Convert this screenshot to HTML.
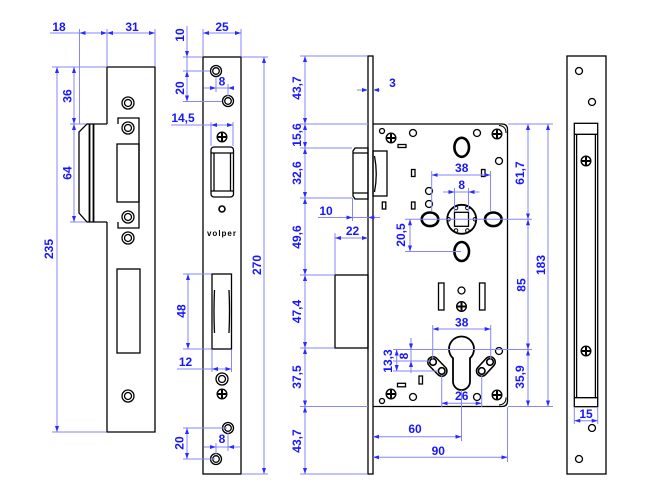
<!DOCTYPE html>
<html><head><meta charset="utf-8"><style>
html,body{margin:0;padding:0;background:#fff;}
svg{display:block;}
.k{fill:none;stroke:#000;stroke-width:1.3;}
.b line,.b path{stroke:#8686ff;stroke-width:1;fill:none;}
.dd{marker-start:url(#m);marker-end:url(#m);}
.de{marker-end:url(#m);}
text{font-family:"Liberation Sans",Arial,sans-serif;font-size:12px;font-weight:bold;fill:#1616ff;text-anchor:middle;}
</style></head><body>
<svg width="650" height="499" viewBox="0 0 650 499" xmlns="http://www.w3.org/2000/svg">
<defs>
<marker id="m" viewBox="0 0 6 4" refX="6" refY="2" markerWidth="6" markerHeight="4" markerUnits="userSpaceOnUse" orient="auto-start-reverse"><path d="M0,0L6,2L0,4z" fill="#2a2aff"/></marker>
<g id="s"><circle r="4.8" fill="#fff" stroke="#000" stroke-width="1.4"/><path d="M-4,0H4M0,-4V4" stroke="#000" stroke-width="2"/></g>
<g id="h"><circle r="6" fill="none" stroke="#000" stroke-width="1.3"/><circle r="3.5" fill="none" stroke="#000" stroke-width="1.3"/></g>
<g id="h2"><circle r="5.5" fill="none" stroke="#000" stroke-width="1.3"/><circle r="3.3" fill="none" stroke="#000" stroke-width="1.3"/></g>
</defs>

<!-- ============ STRIKE PLATE ============ -->
<g class="k">
<path d="M107,124V67H155V432H107V222"/>
<path d="M107,124H87L79,132V213L87,222H107"/>
<path d="M118,124V118H139V228H118V222"/>
<rect x="117" y="144" width="22" height="58"/>
<rect x="117" y="269" width="23" height="84"/>
</g>
<path d="M89.5,124V222M93.5,124V222" stroke="#000" stroke-width="1.8"/>
<use href="#h" x="128" y="103"/>
<use href="#h" x="128" y="128"/>
<use href="#h" x="128" y="217"/>
<use href="#h" x="128" y="238"/>
<use href="#h" x="128" y="396"/>

<g class="b">
<line x1="79.5" y1="29" x2="79.5" y2="124"/>
<line x1="107" y1="29" x2="107" y2="66"/>
<line x1="155" y1="29" x2="155" y2="66"/>
<line x1="50" y1="33" x2="79.5" y2="33"/>
<line class="dd" x1="79.5" y1="33" x2="107" y2="33"/>
<line class="dd" x1="107" y1="33" x2="155" y2="33"/>
<line x1="52" y1="67" x2="106" y2="67"/>
<line x1="70" y1="124" x2="86" y2="124"/>
<line x1="70" y1="222" x2="86" y2="222"/>
<line x1="52" y1="432" x2="106" y2="432"/>
<line class="dd" x1="57" y1="67" x2="57" y2="432"/>
<line class="dd" x1="74" y1="67" x2="74" y2="124"/>
<line class="dd" x1="74" y1="124" x2="74" y2="222"/>
</g>
<text x="59" y="31">18</text>
<text x="132" y="31">31</text>
<text x="67.5" y="96" dy="0.35em" transform="rotate(-90 67.5 96)">36</text>
<text x="67.5" y="173" dy="0.35em" transform="rotate(-90 67.5 173)">64</text>
<text x="49" y="249" dy="0.35em" transform="rotate(-90 49 249)">235</text>

<!-- ============ FACEPLATE (side) ============ -->
<g class="k">
<rect x="203" y="57" width="38" height="417"/>
<rect x="211" y="147" width="22.5" height="50" rx="3"/>
<path d="M211.5,153H233M211.5,191H233M214,153V191M230.5,153V191"/>
<rect x="212" y="274" width="19.5" height="75"/>
<path d="M214.5,290Q213.5,311 214.5,333M229,290Q230,311 229,333"/>
</g>
<circle cx="222" cy="209" r="3" fill="none" stroke="#000" stroke-width="1.6"/>
<text x="222" y="236" style="font-size:8px;fill:#000;letter-spacing:1px">volper</text>
<use href="#h2" x="216" y="71"/>
<use href="#h2" x="228" y="101"/>
<use href="#s" x="222" y="137"/>
<use href="#h" x="222" y="379"/>
<use href="#s" x="222" y="394"/>
<use href="#h2" x="228" y="428"/>
<use href="#h2" x="216" y="459"/>

<g class="b">
<line x1="203" y1="29" x2="203" y2="56"/>
<line x1="241" y1="29" x2="241" y2="56"/>
<line class="dd" x1="203" y1="33" x2="241" y2="33"/>
<line x1="183" y1="57" x2="202" y2="57"/>
<line x1="242" y1="57" x2="268" y2="57"/>
<line x1="242" y1="474" x2="268" y2="474"/>
<line x1="183" y1="71" x2="210" y2="71"/>
<line x1="183" y1="101.5" x2="222" y2="101.5"/>
<line class="de" x1="187" y1="26" x2="187" y2="57"/>
<line x1="187" y1="57" x2="187" y2="71"/>
<line class="dd" x1="187" y1="71" x2="187" y2="101.5"/>
<line x1="216" y1="77" x2="216" y2="92"/>
<line x1="228" y1="84" x2="228" y2="96"/>
<line class="de" x1="204" y1="88" x2="216" y2="88"/>
<line class="de" x1="234" y1="88" x2="228" y2="88"/>
<line x1="216" y1="88" x2="228" y2="88"/>
<line x1="171" y1="125" x2="211" y2="125"/>
<line class="dd" x1="211" y1="125" x2="233" y2="125"/>
<line x1="211" y1="122" x2="211" y2="146"/>
<line x1="233" y1="122" x2="233" y2="146"/>
<line class="dd" x1="264" y1="57" x2="264" y2="474"/>
<line x1="183" y1="274" x2="211" y2="274"/>
<line x1="183" y1="349" x2="211" y2="349"/>
<line class="dd" x1="188" y1="274" x2="188" y2="349"/>
<line x1="212" y1="350" x2="212" y2="372"/>
<line x1="231.5" y1="350" x2="231.5" y2="372"/>
<line x1="177" y1="369" x2="212" y2="369"/>
<line class="dd" x1="212" y1="369" x2="231.5" y2="369"/>
<line x1="183" y1="428" x2="227" y2="428"/>
<line x1="183" y1="459" x2="215" y2="459"/>
<line class="dd" x1="187" y1="428" x2="187" y2="459"/>
<line x1="216" y1="443" x2="216" y2="454"/>
<line x1="228" y1="433" x2="228" y2="451"/>
<line class="de" x1="204" y1="447" x2="216" y2="447"/>
<line class="de" x1="240" y1="447" x2="228" y2="447"/>
<line x1="216" y1="447" x2="228" y2="447"/>
</g>
<text x="222" y="31">25</text>
<text x="180" y="35" dy="0.35em" transform="rotate(-90 180 35)">10</text>
<text x="180" y="88" dy="0.35em" transform="rotate(-90 180 88)">20</text>
<text x="222" y="85.5">8</text>
<text x="183" y="122">14,5</text>
<text x="257" y="265" dy="0.35em" transform="rotate(-90 257 265)">270</text>
<text x="181.5" y="311" dy="0.35em" transform="rotate(-90 181.5 311)">48</text>
<text x="185.5" y="366">12</text>
<text x="179.5" y="443" dy="0.35em" transform="rotate(-90 179.5 443)">20</text>
<text x="222" y="443">8</text>

<!-- ============ LOCK BODY ============ -->
<g class="k">
<rect x="368" y="56" width="5" height="418"/>
<path d="M373,124H502Q507.5,124 507.5,129.5V401Q507.5,406.5 502,406.5H373"/>
<path d="M499,125.5Q506,126 506,133M499,405Q506,404.5 506,397.5" stroke-width="1"/>
<path d="M355,148H368V199H355L353,196V151Z"/>
<path d="M353,153H368M353,193H368"/>
<path d="M374.5,156Q378,174 374.5,192"/>
<rect x="373" y="151" width="14" height="45"/>
<rect x="335" y="275" width="33" height="73"/>
<rect x="398" y="144.5" width="8" height="3"/>
<rect x="411.5" y="169.5" width="3.5" height="7"/>
<rect x="411.5" y="202" width="3.5" height="7"/>
<rect x="382.3" y="202" width="3.5" height="7"/>
<rect x="481.5" y="169.5" width="3.5" height="7"/>
<rect x="419" y="376" width="3.5" height="8"/>
<rect x="397.5" y="383.3" width="8" height="3.5"/>
<rect x="438.5" y="283" width="5.5" height="27"/>
<rect x="479.5" y="283" width="5.5" height="27"/>
<circle cx="382" cy="131" r="2.5"/>
<circle cx="413" cy="133" r="3.5"/>
<circle cx="477" cy="133" r="3.5"/>
<circle cx="499" cy="161" r="3.5"/>
<circle cx="429" cy="191" r="3.5"/>
<circle cx="429" cy="204" r="3.5"/>
<circle cx="461.5" cy="290.5" r="3.5"/>
<circle cx="499" cy="351" r="3.5"/>
<circle cx="382" cy="401" r="2.5"/>
<circle cx="413" cy="397" r="3.5"/>
<circle cx="477" cy="397" r="3.5"/>
<circle cx="461.7" cy="219.3" r="14.5" stroke-width="1.8"/>
<rect x="454.5" y="212.3" width="14" height="14"/>
</g>
<g fill="none" stroke="#000" stroke-width="1">
<circle cx="456" cy="208" r="1.8"/><circle cx="467.4" cy="208" r="1.8"/>
<circle cx="456" cy="230.5" r="1.8"/><circle cx="467.4" cy="230.5" r="1.8"/>
<circle cx="448.5" cy="219.3" r="1.8"/><circle cx="475" cy="219.3" r="1.8"/>
</g>
<g fill="none" stroke="#000" stroke-width="2.6">
<ellipse cx="430" cy="219.3" rx="8.3" ry="6.8"/>
<ellipse cx="493.3" cy="219.3" rx="8.3" ry="6.8"/>
<ellipse cx="461.7" cy="147.3" rx="7.3" ry="9.5"/>
<ellipse cx="461.7" cy="251.5" rx="7.3" ry="9.5"/>
</g>
<path d="M453,358.2A12.5,12.5 0 1 1 470,358.2V381.5A8.5,8.5 0 0 1 453,381.5Z" fill="#fff" stroke="#000" stroke-width="1.8"/>
<g stroke-linecap="round">
<line x1="433" y1="362" x2="441.7" y2="371" stroke="#000" stroke-width="12"/>
<line x1="433" y1="362" x2="441.7" y2="371" stroke="#fff" stroke-width="9"/>
<line x1="490" y1="362" x2="481.7" y2="371" stroke="#000" stroke-width="12"/>
<line x1="490" y1="362" x2="481.7" y2="371" stroke="#fff" stroke-width="9"/>
</g>
<g fill="none" stroke="#000" stroke-width="1.6">
<circle cx="433" cy="362" r="3.3"/><circle cx="441.7" cy="371" r="3.3"/>
<circle cx="490" cy="362" r="3.3"/><circle cx="481.7" cy="371" r="3.3"/>
</g>
<use href="#s" x="391" y="138"/>
<use href="#s" x="497" y="134"/>
<use href="#s" x="461.5" y="306.5"/>
<use href="#s" x="391" y="394"/>
<use href="#s" x="497" y="395"/>

<g class="b">
<line x1="300" y1="56" x2="367" y2="56"/>
<line x1="300" y1="124" x2="368" y2="124"/>
<line x1="300" y1="148" x2="352" y2="148"/>
<line x1="300" y1="198" x2="352" y2="198"/>
<line x1="300" y1="275" x2="334" y2="275"/>
<line x1="300" y1="348" x2="334" y2="348"/>
<line x1="300" y1="406.5" x2="368" y2="406.5"/>
<line x1="300" y1="474" x2="367" y2="474"/>
<line class="dd" x1="305" y1="56" x2="305" y2="124"/>
<line class="dd" x1="305" y1="124" x2="305" y2="148"/>
<line class="dd" x1="305" y1="148" x2="305" y2="198"/>
<line class="dd" x1="305" y1="198" x2="305" y2="275"/>
<line class="dd" x1="305" y1="275" x2="305" y2="348"/>
<line class="dd" x1="305" y1="348" x2="305" y2="406.5"/>
<line class="dd" x1="305" y1="406.5" x2="305" y2="474"/>
<line class="de" x1="357" y1="90" x2="368" y2="90"/>
<line class="de" x1="380" y1="90" x2="373" y2="90"/>
<line x1="352.5" y1="198" x2="352.5" y2="221"/>
<line class="de" x1="318" y1="217.5" x2="352.5" y2="217.5"/>
<line class="de" x1="380" y1="217.5" x2="368.3" y2="217.5"/>
<line x1="352.5" y1="217.5" x2="368.3" y2="217.5"/>
<line x1="335" y1="233" x2="335" y2="274"/>
<line class="dd" x1="335" y1="238" x2="368" y2="238"/>
<line x1="431.7" y1="171" x2="431.7" y2="211"/>
<line x1="490.5" y1="171" x2="490.5" y2="211"/>
<line class="dd" x1="431.7" y1="175" x2="490.5" y2="175"/>
<line x1="454.5" y1="188" x2="454.5" y2="212"/>
<line x1="468.5" y1="188" x2="468.5" y2="212"/>
<line class="de" x1="443" y1="192" x2="454.5" y2="192"/>
<line class="de" x1="479.5" y1="192" x2="468.5" y2="192"/>
<line x1="454.5" y1="192" x2="468.5" y2="192"/>
<line x1="405" y1="219.3" x2="532" y2="219.3"/>
<line class="dd" x1="410" y1="219.3" x2="410" y2="251.5"/>
<line x1="405" y1="251.5" x2="461" y2="251.5"/>
<line x1="508" y1="124" x2="553" y2="124"/>
<line x1="393" y1="349.5" x2="532" y2="349.5"/>
<line x1="508" y1="406.5" x2="553" y2="406.5"/>
<line class="dd" x1="528" y1="124" x2="528" y2="219.3"/>
<line class="dd" x1="528" y1="219.3" x2="528" y2="349.5"/>
<line class="dd" x1="528" y1="349.5" x2="528" y2="406.5"/>
<line class="dd" x1="548" y1="124" x2="548" y2="406.5"/>
<line x1="432.7" y1="325" x2="432.7" y2="359"/>
<line x1="490.7" y1="325" x2="490.7" y2="359"/>
<line class="dd" x1="432.7" y1="329" x2="490.7" y2="329"/>
<line x1="393" y1="361" x2="430" y2="361"/>
<line x1="393" y1="371" x2="438" y2="371"/>
<line class="dd" x1="396.7" y1="349.5" x2="396.7" y2="371"/>
<line class="de" x1="411" y1="338" x2="411" y2="349.5"/>
<line class="de" x1="411" y1="373" x2="411" y2="361"/>
<line x1="411" y1="349.5" x2="411" y2="361"/>
<line x1="441.7" y1="375" x2="441.7" y2="407"/>
<line x1="481.7" y1="375" x2="481.7" y2="407"/>
<line class="dd" x1="441.7" y1="403.3" x2="481.7" y2="403.3"/>
<line x1="461.5" y1="390" x2="461.5" y2="441"/>
<line class="dd" x1="373" y1="436.7" x2="461.5" y2="436.7"/>
<line x1="507.5" y1="407" x2="507.5" y2="462"/>
<line class="dd" x1="373" y1="457.3" x2="507.5" y2="457.3"/>
</g>
<text x="297" y="88" dy="0.35em" transform="rotate(-90 297 88)">43,7</text>
<text x="297" y="135" dy="0.35em" transform="rotate(-90 297 135)">15,6</text>
<text x="297" y="173" dy="0.35em" transform="rotate(-90 297 173)">32,6</text>
<text x="297" y="237" dy="0.35em" transform="rotate(-90 297 237)">49,6</text>
<text x="297" y="311.5" dy="0.35em" transform="rotate(-90 297 311.5)">47,4</text>
<text x="297" y="377" dy="0.35em" transform="rotate(-90 297 377)">37,5</text>
<text x="297" y="441" dy="0.35em" transform="rotate(-90 297 441)">43,7</text>
<text x="392.5" y="87">3</text>
<text x="326" y="215">10</text>
<text x="352.5" y="235">22</text>
<text x="461.7" y="172">38</text>
<text x="461.7" y="189">8</text>
<text x="401" y="235" dy="0.35em" transform="rotate(-90 401 235)">20,5</text>
<text x="520" y="173" dy="0.35em" transform="rotate(-90 520 173)">61,7</text>
<text x="521.5" y="285" dy="0.35em" transform="rotate(-90 521.5 285)">85</text>
<text x="520" y="377" dy="0.35em" transform="rotate(-90 520 377)">35,9</text>
<text x="541" y="265" dy="0.35em" transform="rotate(-90 541 265)">183</text>
<text x="461.7" y="326.5">38</text>
<text x="388" y="361" dy="0.35em" transform="rotate(-90 388 361)">13,3</text>
<text x="404" y="356" dy="0.35em" transform="rotate(-90 404 356)">8</text>
<text x="461.7" y="400">26</text>
<text x="415" y="433">60</text>
<text x="438.3" y="455">90</text>

<!-- ============ FACEPLATE (front) ============ -->
<g class="k">
<rect x="567" y="56" width="39" height="418"/>
<rect x="574.3" y="123.3" width="23.4" height="283.4"/>
<path d="M574.3,134.3H597.7M574.3,397.7H597.7M576.6,134.3V397.7M595.4,134.3V397.7"/>
<circle cx="579" cy="71" r="3.5"/>
<circle cx="592" cy="102" r="3.5"/>
<circle cx="592" cy="428" r="3.5"/>
<circle cx="579" cy="459" r="3.5"/>
</g>
<use href="#s" x="586" y="161"/>
<use href="#s" x="586" y="351"/>
<g class="b">
<line x1="574.3" y1="407" x2="574.3" y2="424"/>
<line x1="597.7" y1="407" x2="597.7" y2="424"/>
<line class="dd" x1="574.3" y1="420.7" x2="597.7" y2="420.7"/>
</g>
<text x="586" y="418">15</text>
</svg>
</body></html>
